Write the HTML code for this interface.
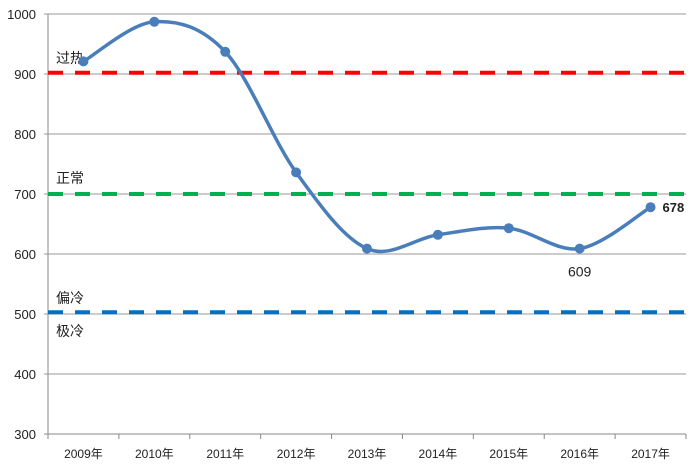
<!DOCTYPE html>
<html><head><meta charset="utf-8"><style>
body{margin:0;background:#fff}
svg text{font-family:"Liberation Sans","Noto Sans CJK SC",sans-serif;fill:#222}
</style></head><body>
<svg id="c" width="700" height="471"></svg>
<script>
const categories=["2009年","2010年","2011年","2012年","2013年","2014年","2015年","2016年","2017年"];
const values=[921,987,937,736,609,632,643,609,678];
const yTicks=[300,400,500,600,700,800,900,1000];
const refValues=[902,700,503];
const refColors=["#ff0000","#00b050","#0070c0"];
const refLabels=[["过热",902,58],["正常",700,178],["偏冷",503,298],["极冷",503,331]];
const L=48,R=686,T=14,B=434;
const x=i=>L+(i+0.5)*(R-L)/categories.length;
const y=v=>T+(1000-v)*(B-T)/700;
const svg=document.getElementById('c');const NS="http://www.w3.org/2000/svg";
function mk(t,a,p){const e=document.createElementNS(NS,t);for(const k in a)e.setAttribute(k,a[k]);(p||svg).appendChild(e);return e;}
yTicks.forEach(v=>{
 const g=mk('line',{x1:L-4,x2:R,y1:y(v),y2:y(v),stroke:v==300?'#888':'#999','stroke-width':1});
 
 
 const t=mk('text',{x:36,y:y(v)+5,'text-anchor':'end','font-size':13});t.textContent=v;
 
 
});
const ax=mk('line',{x1:L,x2:L,y1:T,y2:B+5,stroke:'#888'});


for(let i=0;i<=categories.length;i++){const xx=L+i*(R-L)/categories.length;const tk=mk('line',{x1:xx,x2:xx,y1:B,y2:B+5,stroke:'#888'});
 
 }
categories.forEach((c,i)=>{const t=mk('text',{x:x(i),y:458,'text-anchor':'middle','font-size':12});t.textContent=c;
 
 });
refValues.forEach((v,i)=>{const l=mk('line',{x1:L,x2:R,y1:y(v),y2:y(v),stroke:refColors[i],'stroke-width':4,'stroke-dasharray':'15 12'});
 
 });
refLabels.forEach(r=>{const t=mk('text',{x:56,y:r[2]+5,'font-size':14});t.textContent=r[0];
 
 });
const P=values.map((v,i)=>[x(i),y(v)]);
let d=`M${P[0][0]},${P[0][1]}`;
for(let i=0;i<P.length-1;i++){const p0=P[i-1]||P[i],p1=P[i],p2=P[i+1],p3=P[i+2]||p2;const k=1/6;
 d+=` C${p1[0]+(p2[0]-p0[0])*k},${p1[1]+(p2[1]-p0[1])*k} ${p2[0]-(p3[0]-p1[0])*k},${p2[1]-(p3[1]-p1[1])*k} ${p2[0]},${p2[1]}`;}
const line=mk('path',{d,fill:'none',stroke:'#4a7ebb','stroke-width':3.5});


P.forEach(p=>{const c=mk('circle',{cx:p[0],cy:p[1],r:5,fill:'#4a7ebb'});
 
 });
const n=values.length;
const l1=mk('text',{x:x(n-1)+12,y:y(values[n-1])+5,'font-size':13,'font-weight':'bold'});l1.textContent=values[n-1];


const l2=mk('text',{x:x(n-2),y:y(values[n-2])+28,'text-anchor':'middle','font-size':14});l2.textContent=values[n-2];


</script>
</body></html>
